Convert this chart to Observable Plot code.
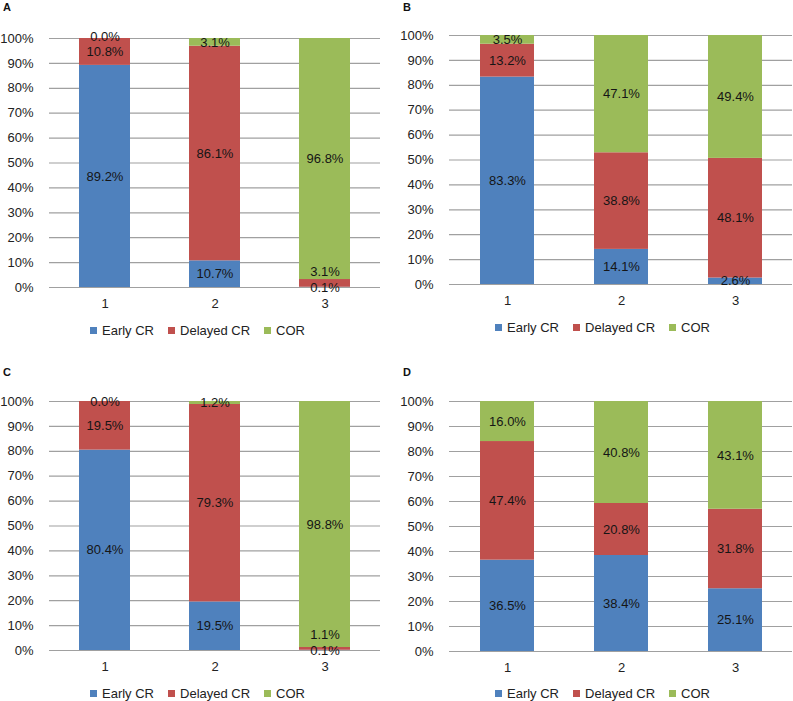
<!DOCTYPE html>
<html><head><meta charset="utf-8">
<script src="https://cdn.jsdelivr.net/npm/d3@7"></script>
<script src="https://cdn.jsdelivr.net/npm/@observablehq/plot@0.6"></script>
<style>
body{margin:0;background:#fff;font-family:"Liberation Sans",Arial,sans-serif;}
#root{position:relative;width:793px;height:701px;overflow:hidden;background:#fff;}
.panel{position:absolute;height:340px;}
.letter{position:absolute;left:3px;font-weight:bold;font-size:11px;line-height:11px;color:#111;}
.legend{position:absolute;display:flex;align-items:center;height:16px;font-size:13px;color:#222;white-space:nowrap;}
.item{display:flex;align-items:center;margin-right:14px;}
.sw{display:inline-block;width:7px;height:7px;margin-right:5px;}
svg{position:absolute;left:0;top:0;}
</style></head><body><div id="root"></div>
<script>
const categories = ["1", "2", "3"];
const seriesNames = ["Early CR", "Delayed CR", "COR"];
const colors = ["#4F81BD", "#C0504D", "#9BBB59"];
const yTicks = [0, 0.1, 0.2, 0.3, 0.4, 0.5, 0.6, 0.7, 0.8, 0.9, 1.0];

// Panel A
const earlyA   = [89.2, 10.7, 0.1];
const delayedA = [10.8, 86.1, 3.1];
const corA     = [0.0, 3.1, 96.8];
// Panel B
const earlyB   = [83.3, 14.1, 2.6];
const delayedB = [13.2, 38.8, 48.1];
const corB     = [3.5, 47.1, 49.4];
// Panel C
const earlyC   = [80.4, 19.5, 0.1];
const delayedC = [19.5, 79.3, 1.1];
const corC     = [0.0, 1.2, 98.8];
// Panel D
const earlyD   = [36.5, 38.4, 25.1];
const delayedD = [47.4, 20.8, 31.8];
const corD     = [16.0, 40.8, 43.1];

const panels = [
  {name: "A", series: [earlyA, delayedA, corA], left: 0,   top: 0,   width: 397, mt: 38, mb: 33, mr: 17, pi: 0.54, legLeft: 90, legTop: 322, letTop: 2},
  {name: "B", series: [earlyB, delayedB, corB], left: 400, top: 0,   width: 393, mt: 35, mb: 36, mr: 1,  pi: 0.53, legLeft: 95, legTop: 319, letTop: 2},
  {name: "C", series: [earlyC, delayedC, corC], left: 0,   top: 363, width: 397, mt: 38, mb: 33, mr: 17, pi: 0.54, legLeft: 90, legTop: 322, letTop: 4},
  {name: "D", series: [earlyD, delayedD, corD], left: 400, top: 366, width: 393, mt: 35, mb: 35, mr: 1,  pi: 0.53, legLeft: 95, legTop: 319, letTop: 1}
];

const root = document.getElementById("root");
const fmt = d3.format(".1f");

for (const p of panels) {
  const rows = [];
  categories.forEach((c, i) => {
    seriesNames.forEach((s, k) => rows.push({cat: c, series: s, value: p.series[k][i]}));
  });
  // label positions: segment midpoints, pushed apart if they collide
  const labels = [];
  const minSep = 0.062;
  categories.forEach((c, i) => {
    const vals = p.series.map(a => a[i]);
    const total = d3.sum(vals);
    let cum = 0, prev = -Infinity;
    vals.forEach((v, k) => {
      const y0 = cum / total, y1 = (cum + v) / total;
      cum += v;
      let pos = (y0 + y1) / 2;
      if (pos < prev + minSep) pos = prev + minSep;
      prev = pos;
      labels.push({cat: c, pos, label: fmt(v) + "%"});
    });
  });

  const div = document.createElement("div");
  div.className = "panel";
  div.style.left = p.left + "px";
  div.style.top = p.top + "px";
  div.style.width = p.width + "px";

  const chart = Plot.plot({
    width: p.width,
    height: 320,
    marginLeft: 49,
    marginRight: p.mr,
    marginTop: p.mt,
    marginBottom: p.mb,
    style: {fontFamily: "'Liberation Sans', Arial, sans-serif", fontSize: "13px", color: "#222", background: "transparent", overflow: "visible"},
    x: {domain: categories, paddingInner: p.pi, paddingOuter: p.pi / 2, label: null, tickSize: 0, tickPadding: 11},
    y: {domain: [0, 1], ticks: yTicks, tickFormat: d3.format(".0%"), label: null, tickSize: 0, tickPadding: 16},
    color: {domain: seriesNames, range: colors},
    marks: [
      Plot.ruleY(yTicks, {stroke: "#a0a0a0", strokeWidth: 1.2}),
      Plot.barY(rows, Plot.stackY({offset: "normalize", x: "cat", y: "value", fill: "series"})),
      Plot.text(labels, {x: "cat", y: "pos", text: "label", fill: "#151515", fontSize: 13})
    ]
  });
  div.appendChild(chart);

  const letter = document.createElement("div");
  letter.className = "letter";
  letter.style.top = p.letTop + "px";
  letter.textContent = p.name;
  div.appendChild(letter);

  const leg = document.createElement("div");
  leg.className = "legend";
  leg.style.left = p.legLeft + "px";
  leg.style.top = p.legTop + "px";
  seriesNames.forEach((s, k) => {
    const it = document.createElement("span");
    it.className = "item";
    const sw = document.createElement("span");
    sw.className = "sw";
    sw.style.background = colors[k];
    it.appendChild(sw);
    it.appendChild(document.createTextNode(s));
    leg.appendChild(it);
  });
  div.appendChild(leg);

  root.appendChild(div);
}
</script>
</body></html>
